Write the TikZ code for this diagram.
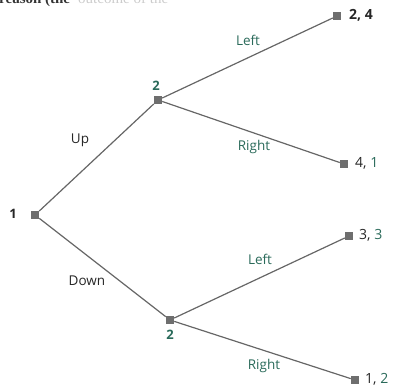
\documentclass[tikz,border=0pt]{standalone}
\usepackage{fontspec}
\setmainfont{Open Sans}
\newfontfamily\hdrfont{Liberation Serif}
\definecolor{teal}{HTML}{2A6A5A}
\definecolor{edgegray}{HTML}{666666}
\definecolor{boxgray}{HTML}{6E6E6E}
\begin{document}
\begin{tikzpicture}[x=1pt,y=-1pt,
  dec/.style={fill=boxgray,minimum size=8.5pt,inner sep=0pt,outer sep=0pt},
  edge/.style={draw=edgegray,line width=1.2pt},
  lbl/.style={font=\fontsize{13.5}{15}\selectfont,inner sep=1pt,text=black!85},
  tl/.style={lbl,text=teal},
  pl/.style={lbl,font=\fontsize{13}{15}\selectfont\bfseries},
  pay/.style={lbl,anchor=west,font=\fontsize{14}{16}\selectfont}]
\clip (0,0) rectangle (393,391);
\useasboundingbox (0,0) rectangle (393,391);
\node[anchor=base west,inner sep=0pt,font=\hdrfont\bfseries\fontsize{15}{16}\selectfont,text=black!80] (hdr) at (-1,3) {reason (the};
\node[anchor=base west,inner sep=0pt,font=\hdrfont\fontsize{15}{16}\selectfont,text=black!20] (hdr2) at (78,3) {outcome of the};
% decision nodes
\node[dec] (n1) at (35,215) {};
\node[dec] (u2) at (158,100) {};
\node[dec] (d2) at (170,320) {};
\node[dec] (t1) at (337,16) {};
\node[dec] (t2) at (344,164) {};
\node[dec] (t3) at (349,236) {};
\node[dec] (t4) at (355,380) {};
% edges
\draw[edge] (n1) -- (u2);
\draw[edge] (n1) -- (d2);
\draw[edge] (u2) -- (t1);
\draw[edge] (u2) -- (t2);
\draw[edge] (d2) -- (t3);
\draw[edge] (d2) -- (t4);
% player labels
\node[pl] (p1) at (13,214) {1};
\node[pl,text=teal] (p2u) at (156,86) {2};
\node[pl,text=teal] (p2d) at (170,335) {2};
% action labels
\node[tl] (aL1) at (248,40) {Left};
\node[lbl] (aU) at (80,140) {Up};
\node[tl] (aR1) at (254,147) {Right};
\node[tl] (aL2) at (260,259) {Left};
\node[lbl] (aD) at (87,281) {Down};
\node[tl] (aR2) at (264,366) {Right};
% payoffs
\node[pay] (o1) at (348,15) {\textbf{2, 4}};
\node[pay] (o2) at (354,163) {4, \textcolor{teal}{1}};
\node[pay] (o3) at (358,235) {3, \textcolor{teal}{3}};
\node[pay] (o4) at (364,379) {1, \textcolor{teal}{2}};
\end{tikzpicture}
\end{document}
